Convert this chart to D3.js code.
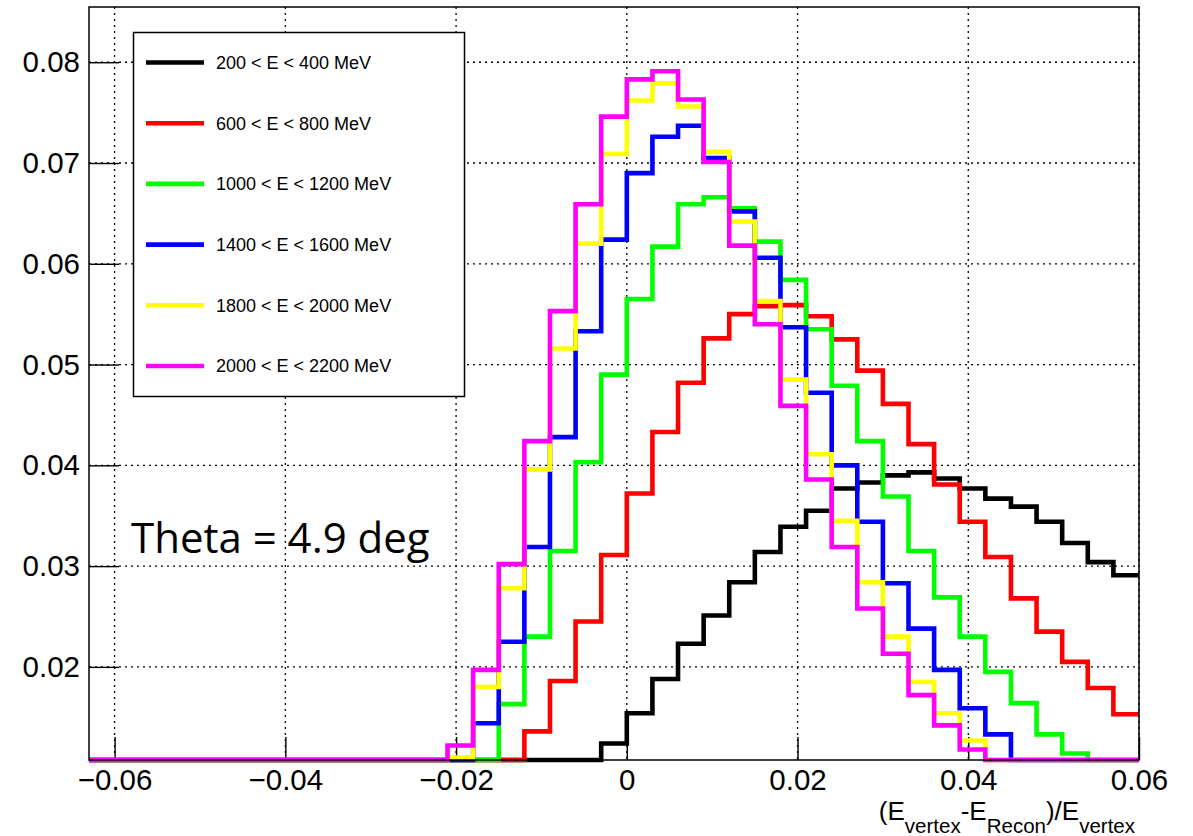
<!DOCTYPE html>
<html>
<head>
<meta charset="utf-8">
<script src="https://cdnjs.cloudflare.com/ajax/libs/d3/7.8.5/d3.min.js"></script>
<style>
    body { margin: 0; background: #fff; }
    svg { display: block; font-family: "Liberation Sans", Arial, Helvetica, sans-serif; }
</style>
</head>
<body>
<div id="vis"></div>
<script>
'use strict';

//histogram binning: 41 bins of 0.003 from -0.063 to 0.06
var binStart = -0.063;
var binWidth = 0.003;

//series (one value per bin, 0 = empty)
var series = ['200 < E < 400 MeV', '600 < E < 800 MeV', '1000 < E < 1200 MeV',
    '1400 < E < 1600 MeV', '1800 < E < 2000 MeV', '2000 < E < 2200 MeV'];
var seriesColors = ['#000000', '#ff0000', '#00ff00', '#0000ff', '#ffff00', '#ff00ff'];

var e200 = [0, 0, 0, 0, 0, 0, 0, 0, 0, 0, 0, 0, 0, 0, 0, 0, 0, 0, 0, 0,
    0.0124, 0.0154, 0.0188, 0.0223, 0.0251, 0.0284, 0.0314, 0.0339, 0.0355, 0.0377,
    0.0383, 0.0390, 0.0393, 0.0387, 0.0377, 0.0367, 0.0359, 0.0344, 0.0323, 0.0304, 0.0291];
var e600 = [0, 0, 0, 0, 0, 0, 0, 0, 0, 0, 0, 0, 0, 0, 0, 0, 0,
    0.0136, 0.0186, 0.0245, 0.0311, 0.0372, 0.0433, 0.0482, 0.0526, 0.0550, 0.0558,
    0.0559, 0.0548, 0.0525, 0.0494, 0.0461, 0.0421, 0.0381, 0.0344, 0.0309, 0.0268,
    0.0235, 0.0205, 0.0179, 0.0153];
var e1000 = [0, 0, 0, 0, 0, 0, 0, 0, 0, 0, 0, 0, 0, 0, 0, 0,
    0.0163, 0.0230, 0.0315, 0.0403, 0.0490, 0.0565, 0.0617, 0.0659, 0.0666, 0.0655,
    0.0622, 0.0584, 0.0535, 0.0479, 0.0424, 0.0369, 0.0315, 0.0269, 0.0230, 0.0195,
    0.0164, 0.0133, 0.0114, 0, 0];
var e1400 = [0, 0, 0, 0, 0, 0, 0, 0, 0, 0, 0, 0, 0, 0, 0,
    0.0144, 0.0225, 0.0319, 0.0428, 0.0533, 0.0624, 0.0690, 0.0726, 0.0737, 0.0705,
    0.0652, 0.0606, 0.0537, 0.0472, 0.0400, 0.0344, 0.0283, 0.0238, 0.0197, 0.0159,
    0.0133, 0, 0, 0, 0, 0];
var e1800 = [0, 0, 0, 0, 0, 0, 0, 0, 0, 0, 0, 0, 0, 0,
    0.0110, 0.0180, 0.0278, 0.0396, 0.0516, 0.0620, 0.0709, 0.0762, 0.0779, 0.0756,
    0.0711, 0.0642, 0.0563, 0.0485, 0.0411, 0.0345, 0.0284, 0.0230, 0.0185, 0.0154,
    0.0127, 0, 0, 0, 0, 0, 0];
var e2000 = [0, 0, 0, 0, 0, 0, 0, 0, 0, 0, 0, 0, 0, 0,
    0.0122, 0.0197, 0.0302, 0.0424, 0.0553, 0.0659, 0.0746, 0.0783, 0.0791, 0.0763,
    0.0701, 0.0618, 0.0540, 0.0459, 0.0386, 0.0319, 0.0258, 0.0213, 0.0172, 0.0142,
    0.0118, 0, 0, 0, 0, 0, 0];
var seriesValues = [e200, e600, e1000, e1400, e1800, e2000];

//axis ticks
var xTicks = [-0.06, -0.04, -0.02, 0, 0.02, 0.04, 0.06];
var xTickLabels = ['\u22120.06', '\u22120.04', '\u22120.02', '0', '0.02', '0.04', '0.06'];
var yTicks = [0.02, 0.03, 0.04, 0.05, 0.06, 0.07, 0.08];
var yTickLabels = ['0.02', '0.03', '0.04', '0.05', '0.06', '0.07', '0.08'];
var annotation = 'Theta = 4.9 deg';

//layout
var W = 1193, H = 836;
var frame = { left: 89, right: 1139, top: 7, bottom: 760 };

var x = d3.scaleLinear().domain([-0.063, 0.06]).range([frame.left, frame.right]);
var y = d3.scaleLinear().domain([0.01076, 0.08548]).range([frame.bottom, frame.top]).clamp(true);

var svg = d3.select('#vis').append('svg')
    .attr('width', W)
    .attr('height', H);

//grid
var grid = svg.append('g').attr('class', 'grid');
grid.selectAll('.gx').data(xTicks).enter().append('line')
    .attr('x1', function (d) { return x(d); })
    .attr('x2', function (d) { return x(d); })
    .attr('y1', frame.top)
    .attr('y2', frame.bottom)
    .attr('stroke', '#000').attr('stroke-width', 1.3).attr('stroke-dasharray', '2,4');
grid.selectAll('.gy').data(yTicks).enter().append('line')
    .attr('x1', frame.left)
    .attr('x2', frame.right)
    .attr('y1', function (d) { return y(d); })
    .attr('y2', function (d) { return y(d); })
    .attr('stroke', '#000').attr('stroke-width', 1.3).attr('stroke-dasharray', '2,4');

//minor ticks
var xMinor = d3.range(-0.06, 0.0601, 0.005).filter(function (d) {
    return Math.abs(Math.round(d * 1000) % 20) !== 0;
});
var yMinor = d3.range(0.012, 0.0851, 0.002).filter(function (d) {
    return Math.round(d * 1000) % 10 !== 0;
});

//axes
var xAxisG = svg.append('g').attr('transform', 'translate(0,' + frame.bottom + ')');
xAxisG.call(d3.axisBottom(x).tickValues(xMinor).tickSizeInner(-11.5).tickSizeOuter(0).tickFormat(''));
xAxisG.call(d3.axisBottom(x).tickValues(xTicks).tickSizeInner(-23).tickSizeOuter(0).tickPadding(10)
    .tickFormat(function (d, i) { return xTickLabels[i]; }));

var yAxisG = svg.append('g').attr('transform', 'translate(' + frame.left + ',0)');
yAxisG.call(d3.axisLeft(y).tickValues(yMinor).tickSizeInner(-15.5).tickSizeOuter(0).tickFormat(''));
yAxisG.call(d3.axisLeft(y).tickValues(yTicks).tickSizeInner(-30).tickSizeOuter(0).tickPadding(9)
    .tickFormat(function (d, i) { return yTickLabels[i]; }));

svg.selectAll('.domain').remove();
svg.selectAll('.tick line').attr('stroke', '#000').attr('stroke-width', 1.4);
svg.selectAll('.tick text')
    .attr('fill', '#000')
    .style('font-size', '29.5px')
    .style('font-family', '"Liberation Sans", Arial, sans-serif');
xAxisG.selectAll('.tick text').attr('dy', '0.68em');

//histograms
var line = d3.line()
    .x(function (d) { return x(d[0]); })
    .y(function (d) { return y(d[1]); })
    .curve(d3.curveStepAfter);

seriesValues.forEach(function (vals, s) {
    var pts = vals.map(function (v, i) { return [binStart + i * binWidth, v]; });
    pts.push([binStart + vals.length * binWidth, vals[vals.length - 1]]);
    svg.append('path')
        .datum(pts)
        .attr('d', line)
        .attr('fill', 'none')
        .attr('stroke', seriesColors[s])
        .attr('stroke-width', 4.6)
        .attr('stroke-linejoin', 'miter');
});

//frame
svg.append('rect')
    .attr('x', frame.left)
    .attr('y', frame.top)
    .attr('width', frame.right - frame.left)
    .attr('height', frame.bottom - frame.top)
    .attr('fill', 'none')
    .attr('stroke', '#000')
    .attr('stroke-width', 1.5);

//x title
var title = svg.append('text')
    .attr('x', 1135)
    .attr('y', 820)
    .attr('text-anchor', 'end')
    .style('font-size', '26px')
    .attr('fill', '#000');
title.append('tspan').text('(E');
title.append('tspan').attr('dy', 13).style('font-size', '20.5px').text('vertex');
title.append('tspan').attr('dy', -13).text('-E');
title.append('tspan').attr('dy', 13).style('font-size', '20.5px').text('Recon');
title.append('tspan').attr('dy', -13).text(')/E');
title.append('tspan').attr('dy', 13).style('font-size', '20.5px').text('vertex');

//legend
var legend = svg.append('g');
legend.append('rect')
    .attr('x', 133.5).attr('y', 32.5)
    .attr('width', 331).attr('height', 364)
    .attr('fill', '#fff')
    .attr('stroke', '#000')
    .attr('stroke-width', 1.5);
var rowY = d3.scaleLinear().domain([0, 5]).range([62.5, 366]);
series.forEach(function (name, i) {
    legend.append('line')
        .attr('x1', 146).attr('x2', 204)
        .attr('y1', rowY(i)).attr('y2', rowY(i))
        .attr('stroke', seriesColors[i])
        .attr('stroke-width', 4.6);
    legend.append('text')
        .attr('x', 216)
        .attr('y', rowY(i))
        .attr('dy', '0.36em')
        .style('font-size', '18px')
        .attr('fill', '#000')
        .text(name);
});

//annotation
svg.append('text')
    .attr('x', 131)
    .attr('y', 553)
    .style('font-family', '"Open Sans", Lato, sans-serif')
    .style('font-size', '42px')
    .attr('fill', '#000')
    .text(annotation);
</script>
</body>
</html>
